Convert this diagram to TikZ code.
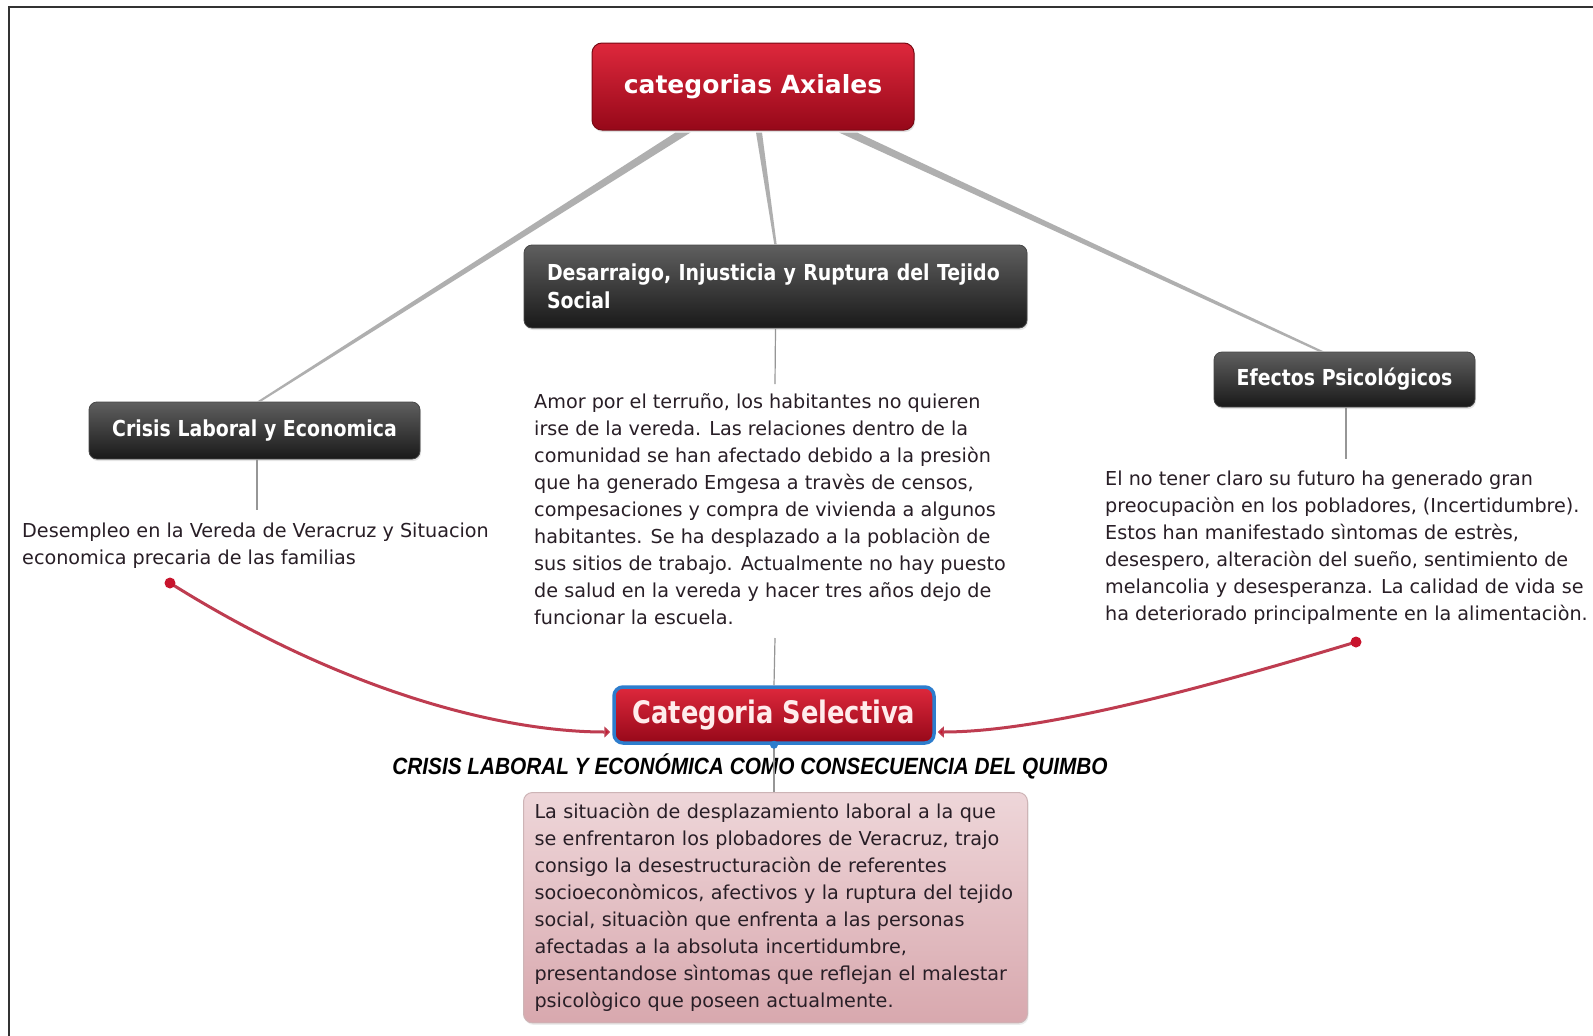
\documentclass[tikz,border=0pt]{standalone}
\usepackage{fontspec}
\setmainfont{DejaVu Sans}
\newfontfamily\titlefont[FakeStretch=0.86]{DejaVu Sans}
\newfontfamily\bigfont{DejaVu Sans}
\newfontfamily\selfont[FakeStretch=0.83]{DejaVu Sans}
\newfontfamily\crisisfont[FakeStretch=0.885]{Liberation Sans}
\usetikzlibrary{arrows.meta,shadows,calc}
\definecolor{redtop}{RGB}{222,40,60}
\definecolor{redbot}{RGB}{150,8,25}
\definecolor{redline}{RGB}{120,10,20}
\definecolor{darktop}{RGB}{95,95,95}
\definecolor{darkbot}{RGB}{25,25,25}
\definecolor{pinktop}{RGB}{238,214,217}
\definecolor{pinkbot}{RGB}{216,168,174}
\definecolor{pinkline}{RGB}{205,180,182}
\definecolor{selblue}{RGB}{45,125,205}
\definecolor{thickgray}{RGB}{175,175,175}
\definecolor{thingray}{RGB}{150,150,150}
\definecolor{curvered}{RGB}{190,60,80}
\definecolor{dotred}{RGB}{200,20,45}
\definecolor{bodytext}{RGB}{40,30,38}
\definecolor{framecol}{RGB}{50,50,50}
\tikzset{
  redbox/.style={rounded corners=10pt, top color=redtop, bottom color=redbot, draw=redline, line width=1pt,
    text=white, drop shadow={opacity=0.25, shadow xshift=1pt, shadow yshift=-2pt}},
  darkbox/.style={rounded corners=8pt, top color=darktop, bottom color=darkbot, draw=darkbot!80!white, line width=0.8pt,
    text=white, drop shadow={opacity=0.2, shadow xshift=1pt, shadow yshift=-2pt},
    font=\titlefont\bfseries\fontsize{22}{28}\selectfont},
  selbox/.style={rounded corners=9pt, top color=redtop, bottom color=redbot, draw=selblue, line width=3.5pt,
    text={rgb,255:red,255;green,236;blue,236}},
  pinkbox/.style={rounded corners=9pt, top color=pinktop, bottom color=pinkbot, draw=pinkline, line width=1pt,
    drop shadow={opacity=0.15, shadow xshift=1pt, shadow yshift=-2pt}},
  bodytxt/.style={inner sep=0pt, align=left, text=bodytext, font=\fontsize{19.2}{27}\selectfont},
  thinline/.style={draw=thingray, line width=1.2pt},
  redcurve/.style={draw=curvered, line width=3pt, -{Triangle[length=6pt,width=11pt,fill=dotred]}},
}
\begin{document}
\begin{tikzpicture}[x=1pt,y=-1pt]
\useasboundingbox[fill=white] (0,0) rectangle (1593,1036);
\draw[framecol, line width=2pt] (8.5,1036) -- (8.5,6.5) -- (1593,6.5);

% boxes
\node[redbox, minimum width=322, minimum height=87] (ax) at (753,86.5)
  {\bigfont\bfseries\fontsize{25}{30}\selectfont categorias Axiales};
\node[darkbox, minimum width=503, minimum height=83, text width=457, inner xsep=23, align=left] (ds) at (775.5,286.5)
  {Desarraigo, Injusticia y Ruptura del Tejido\\Social};
\node[darkbox, minimum width=331, minimum height=57] (cl) at (254.5,430.5) {Crisis Laboral y Economica};
\node[darkbox, minimum width=261, minimum height=55] (ef) at (1344.5,379.5) {Efectos Psicológicos};
\node[selbox, minimum width=320, minimum height=56] (cs) at (774,715)
  {\selfont\bfseries\fontsize{31}{34}\selectfont Categoria Selectiva};
\node[pinkbox, anchor=north west, minimum width=504, minimum height=227, text width=490, inner xsep=7, inner ysep=11,
  align=left, text=bodytext, font=\fontsize{19.2}{27}\selectfont] (pb) at (523,792)
  {\hspace*{4pt}La situaciòn de desplazamiento laboral a la que\\
   \hspace*{4pt}se enfrentaron los plobadores de Veracruz, trajo\\
   \hspace*{4pt}consigo la desestructuraciòn de referentes\\
   \hspace*{4pt}socioeconòmicos, afectivos y la ruptura del tejido\\
   \hspace*{4pt}social, situaciòn que enfrenta a las personas\\
   \hspace*{4pt}afectadas a la absoluta incertidumbre,\\
   \hspace*{4pt}presentandose sìntomas que reflejan el malestar\\
   \hspace*{4pt}psicològico que poseen actualmente.};

% texts
\node[bodytxt, anchor=north west] (de) at (22,523)
  {Desempleo en la Vereda de Veracruz y Situacion\\economica precaria de las familias};
\node[bodytxt, anchor=north west] (am) at (534,393)
  {Amor por el terruño, los habitantes no quieren\\
   irse de la vereda. Las relaciones dentro de la\\
   comunidad se han afectado debido a la presiòn\\
   que ha generado Emgesa a travès de censos,\\
   compesaciones y compra de vivienda a algunos\\
   habitantes. Se ha desplazado a la poblaciòn de\\
   sus sitios de trabajo. Actualmente no hay puesto\\
   de salud en la vereda y hacer tres años dejo de\\
   funcionar la escuela.};
\node[bodytxt, anchor=north west] (en) at (1105,471)
  {El no tener claro su futuro ha generado gran\\
   preocupaciòn en los pobladores, (Incertidumbre).\\
   Estos han manifestado sìntomas de estrès,\\
   desespero, alteraciòn del sueño, sentimiento de\\
   melancolia y desesperanza. La calidad de vida se\\
   ha deteriorado principalmente en la alimentaciòn.};
\node[inner sep=0pt, text=black] (cr) at (750,766)
  {\crisisfont\bfseries\itshape\fontsize{23.5}{28}\selectfont CRISIS LABORAL Y ECONÓMICA COMO CONSECUENCIA DEL QUIMBO};

% thick tapered connectors from the axial node
\fill[thickgray] ($(ax.south)+(-77.5,2)$) -- ($(ax.south)+(-62.5,2)$) -- ($(cl.north)+(6.4,0)$) -- ($(cl.north)+(2.6,0)$) -- cycle;
\fill[thickgray] ($(ax.south)+(3,2)$) -- ($(ax.south)+(9,2)$) -- ($(ds.north)+(1.2,0)$) -- ($(ds.north)+(-1.2,0)$) -- cycle;
\fill[thickgray] ($(ax.south)+(86,2)$) -- ($(ax.south)+(104,2)$) -- ($(ef.north)+(-20.4,0)$) -- ($(ef.north)+(-25.6,0)$) -- cycle;

% thin connectors
\coordinate (deTop) at (257,510);
\coordinate (amTop) at (775,384);
\coordinate (amBot) at (775,638);
\coordinate (enTop) at (1346,459);
\draw[thinline] ([xshift=2.5pt]cl.south) -- (deTop);
\draw[thinline] (ds.south) -- (amTop);
\draw[thinline] (amBot) -- (cs.north);
\draw[thinline] ([xshift=1.5pt]ef.south) -- (enTop);
\draw[thinline] (cs.south) -- (cs.south |- pb.north);

% red curved connectors
\coordinate (dl) at (170,583);
\coordinate (dr) at (1356,642);
\draw[redcurve] (dl) .. controls (340,690) and (500,732) .. ($(cs.west)+(-2,17)$);
\draw[redcurve] (dr) .. controls (1230,680) and (1050,732) .. ($(cs.east)+(2,17)$);
\fill[dotred] (dl) circle [radius=5.5pt];
\fill[dotred] (dr) circle [radius=5.5pt];
\fill[selblue] (cs.south) circle [radius=4pt];
\end{tikzpicture}
\end{document}
